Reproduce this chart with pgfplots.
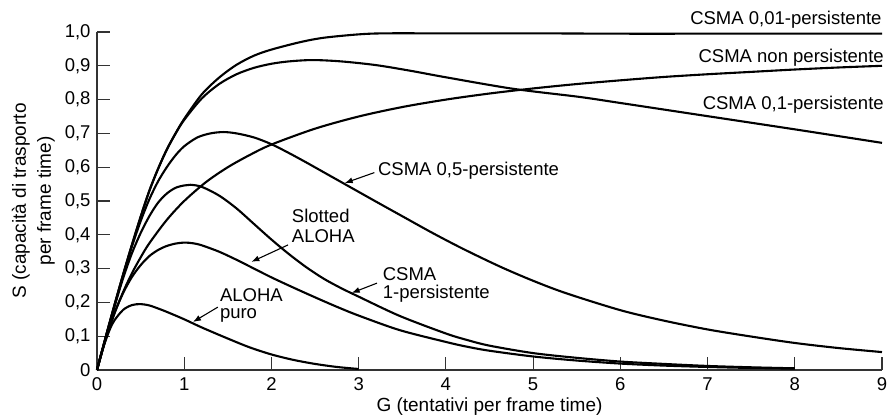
\documentclass[border=0pt]{standalone}
\usepackage{pgfplots}
\usepackage{pgfplotstable}
\pgfplotsset{compat=1.18}
\usepackage{fontspec}
\setmainfont{Liberation Sans}
\usetikzlibrary{arrows.meta}
\newcommand\fs{\fontsize{18.5bp}{22bp}\selectfont}
\newcommand\fl{\fontsize{19bp}{25bp}\selectfont}

\pgfplotstableread{
G S
0 0
0.05 0.05
0.1 0.088
0.15 0.122
0.2 0.147
0.3 0.178
0.4 0.192
0.5 0.195
0.6 0.191
0.7 0.182
0.8 0.172
1.0 0.150
1.2 0.126
1.5 0.093
1.75 0.067
2.0 0.046
2.25 0.030
2.5 0.018
2.75 0.009
3.0 0.003
}\aloha

\pgfplotstableread{
G S
0 0
0.1 0.092
0.2 0.168
0.3 0.228
0.4 0.275
0.5 0.31
0.6 0.337
0.7 0.355
0.8 0.367
0.9 0.374
1.0 0.377
1.1 0.375
1.2 0.369
1.4 0.350
1.6 0.326
1.8 0.300
2.0 0.274
2.25 0.244
2.5 0.215
2.75 0.187
3.0 0.161
3.47 0.118
4.0 0.083
4.24 0.069
4.5 0.057
5.0 0.040
5.5 0.028
6.0 0.019
6.5 0.013
7.0 0.009
7.5 0.006
8.0 0.004
}\slotted

\pgfplotstableread{
G S
0 0
0.1 0.095
0.2 0.187
0.3 0.272
0.4 0.345
0.5 0.405
0.6 0.455
0.7 0.495
0.8 0.522
0.9 0.539
1.0 0.546
1.07 0.548
1.2 0.542
1.4 0.516
1.6 0.478
1.8 0.432
2.0 0.386
2.2 0.343
2.4 0.304
2.6 0.270
2.8 0.242
3.0 0.217
3.47 0.160
4.0 0.108
4.24 0.089
4.5 0.072
5.0 0.050
5.5 0.036
6.0 0.025
6.5 0.018
7.0 0.012
7.5 0.008
8.0 0.005
}\onep

\pgfplotstableread{
G S
0 0
0.1 0.096
0.2 0.19
0.3 0.28
0.4 0.365
0.5 0.44
0.6 0.505
0.7 0.558
0.8 0.60
0.9 0.635
1.0 0.662
1.15 0.688
1.3 0.700
1.45 0.704
1.6 0.700
1.8 0.688
2.0 0.668
2.2 0.642
2.4 0.614
2.6 0.585
2.8 0.556
3.0 0.527
3.2 0.498
3.5 0.455
3.85 0.405
4.2 0.358
4.62 0.306
5.0 0.264
5.38 0.227
6.0 0.177
6.5 0.146
7.0 0.12
7.5 0.099
8.0 0.08
8.5 0.065
9.0 0.053
}\halfp

\pgfplotstableread{
G S
0 0
0.1 0.098
0.2 0.192
0.3 0.283
0.4 0.370
0.5 0.453
0.6 0.530
0.7 0.595
0.8 0.652
0.9 0.700
1.0 0.743
1.2 0.815
1.4 0.865
1.6 0.903
1.8 0.930
2.0 0.948
2.33 0.970
2.6 0.983
3.0 0.993
3.3 0.996
4.0 0.996
5.0 0.996
6.0 0.995
7.0 0.995
8.0 0.995
9.0 0.995
}\centp

\pgfplotstableread{
G S
0 0
0.1 0.098
0.2 0.192
0.3 0.283
0.4 0.370
0.5 0.453
0.6 0.530
0.7 0.595
0.8 0.652
0.9 0.699
1.0 0.740
1.2 0.803
1.4 0.846
1.6 0.875
1.8 0.894
2.0 0.906
2.2 0.913
2.47 0.917
2.8 0.913
3.2 0.902
3.6 0.885
4.0 0.866
4.77 0.832
5.53 0.808
6.0 0.790
7.0 0.751
8.0 0.712
9.0 0.672
}\tenthp

\pgfplotstableread{
G S
0 0
0.1 0.091
0.2 0.167
0.3 0.231
0.4 0.286
0.5 0.333
0.6 0.375
0.8 0.444
1.0 0.5
1.25 0.556
1.5 0.6
1.75 0.636
2.0 0.667
2.5 0.714
3.0 0.75
3.5 0.778
4.0 0.8
4.5 0.818
5.0 0.833
5.5 0.846
6.0 0.857
6.5 0.867
7.0 0.875
7.5 0.882
8.0 0.889
8.5 0.895
9.0 0.9
}\nonp

\begin{document}
\begin{tikzpicture}[font=\fs]
\path[use as bounding box] (-97bp,-47bp) rectangle (796bp,370bp);
\begin{axis}[
  at={(0,0)}, anchor=south west,
  scale only axis, width=785bp, height=338bp,
  xmin=0, xmax=9, ymin=0, ymax=1,
  axis lines=left,
  axis line style={-, line width=1.3bp, black!80},
  tick align=inside,
  major tick length=13bp,
  tick style={line width=1.2bp, black!80},
  xtick={0,1,2,3,4,5,6,7,8,9},
  ytick={0,0.1,0.2,0.3,0.4,0.5,0.6,0.7,0.8,0.9,1},
  yticklabels={0,{0,1},{0,2},{0,3},{0,4},{0,5},{0,6},{0,7},{0,8},{0,9},{1,0}},
  xticklabels={0,1,2,3,4,5,6,7,8,9},
  /pgf/number format/assume math mode=true,
  tick label style={font=\fs},
  yticklabel style={xshift=-3bp},
  xticklabel style={yshift=-4bp},
  xlabel={G (tentativi per frame time)},
  xlabel style={font=\fl},
  ylabel={S (capacità di trasporto\\per frame time)},
  every axis y label/.style={at={(axis description cs:-0.081,0.5)}, rotate=90, anchor=center, align=center, font=\fl},
  clip=false,
]
\pgfplotsset{curve/.style={black, line width=2.1bp, smooth, no markers, line join=round}}
\addplot[curve] table[x=G,y=S] {\aloha};
\addplot[curve] table[x=G,y=S] {\slotted};
\addplot[curve] table[x=G,y=S] {\onep};
\addplot[curve] table[x=G,y=S] {\halfp};
\addplot[curve] table[x=G,y=S] {\centp};
\addplot[curve] table[x=G,y=S] {\tenthp};
\addplot[curve] table[x=G,y=S] {\nonp};

\node[anchor=base east] at (axis cs:9.035,1.021) {CSMA 0,01-persistente};
\node[anchor=base east] at (axis cs:9.06,0.911) {CSMA non persistente};
\node[anchor=base east] at (axis cs:9.06,0.772) {CSMA 0,1-persistente};
\node[anchor=base west, inner sep=0pt] at (axis cs:3.22,0.574) {CSMA 0,5-persistente};
\node[anchor=base west, inner sep=0pt] at (axis cs:2.233,0.435) {Slotted};
\node[anchor=base west, inner sep=0pt] at (axis cs:2.233,0.376) {ALOHA};
\node[anchor=base west, inner sep=0pt] at (axis cs:3.275,0.266) {CSMA};
\node[anchor=base west, inner sep=0pt] at (axis cs:3.275,0.213) {1-persistente};
\node[anchor=base west, inner sep=0pt] at (axis cs:1.408,0.203) {ALOHA};
\node[anchor=base west, inner sep=0pt] at (axis cs:1.408,0.153) {puro};

\draw[-{Latex[length=8bp,width=6bp]}, line width=1.1bp] (axis cs:3.18,0.584) -- (axis cs:2.84,0.553);
\draw[-{Latex[length=8bp,width=6bp]}, line width=1.1bp] (axis cs:2.19,0.37) -- (axis cs:1.77,0.32);
\draw[-{Latex[length=8bp,width=6bp]}, line width=1.1bp] (axis cs:3.21,0.257) -- (axis cs:2.92,0.228);
\draw[-{Latex[length=8bp,width=6bp]}, line width=1.1bp] (axis cs:1.385,0.186) -- (axis cs:1.10,0.142);
\end{axis}
\end{tikzpicture}
\end{document}
